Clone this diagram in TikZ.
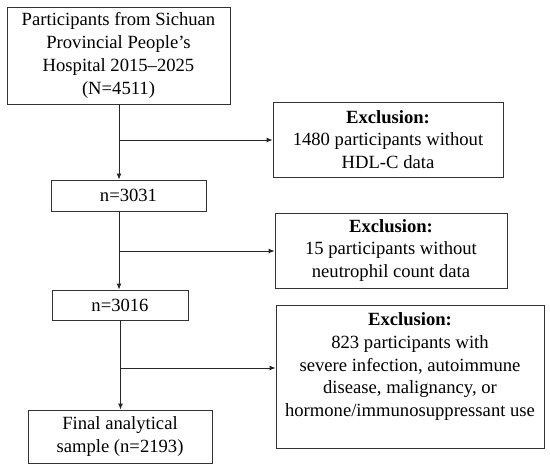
\documentclass[tikz,border=0pt]{standalone}
\usepackage{fontspec}
\setmainfont{Liberation Serif}
\usetikzlibrary{arrows.meta}
\begin{document}
\begin{tikzpicture}[x=1bp,y=-1bp,
  every node/.style={font=\fontsize{18.7}{22.8}\selectfont, align=center, inner sep=0pt},
  box/.style={draw=black!80, line width=0.9pt, fill=white},
  conn/.style={draw=black!85, line width=0.9pt},
  arr/.style={conn, -{Latex[length=6bp,width=5bp]}}]
\useasboundingbox[fill=white] (0,0) rectangle (550,470);
\node[box, minimum width=223bp, minimum height=97bp] (b1) at (118.5,55.5)
  {Participants from Sichuan\\Provincial People’s\\Hospital 2015–2025\\(N=4511)};
\node[box, minimum width=230bp, minimum height=75bp] (e1) at (388,139.5)
  {\textbf{Exclusion:}\\1480 participants without\\HDL-C data};
\node[box, minimum width=155bp, minimum height=31bp] (b2) at (128.5,195.5) {n=3031};
\node[box, minimum width=232bp, minimum height=75bp] (e2) at (391,250.5)
  {\textbf{Exclusion:}\\15 participants without\\neutrophil count data};
\node[box, minimum width=268bp, minimum height=143bp] (e3) at (410,376.5) {};
\node[anchor=north] (e3t) at ([yshift=-8bp]e3.north)
  {\textbf{Exclusion:}\\823 participants with\\severe infection, autoimmune\\disease, malignancy, or\\hormone/immunosuppressant use};
\node[box, minimum width=136bp, minimum height=30bp] (b3) at (120,305) {n=3016};
\node[box, minimum width=184bp, minimum height=53bp] (b4) at (120,436.5)
  {Final analytical\\sample (n=2193)};
\coordinate (t1) at (119,104);
\coordinate (j1) at (119,140);
\coordinate (t2) at (119,211);
\coordinate (j2) at (119.5,251);
\coordinate (t3) at (120.5,320);
\coordinate (j3) at (120.5,368);
\draw[arr] (t1) -- (t1 |- b2.north);
\draw[arr] (j1) -- (j1 -| e1.west);
\draw[arr] (t2) -- (t2 |- b3.north);
\draw[arr] (j2) -- (j2 -| e2.west);
\draw[arr] (t3) -- (t3 |- b4.north);
\draw[arr] (j3) -- (j3 -| e3.west);
\end{tikzpicture}
\end{document}
